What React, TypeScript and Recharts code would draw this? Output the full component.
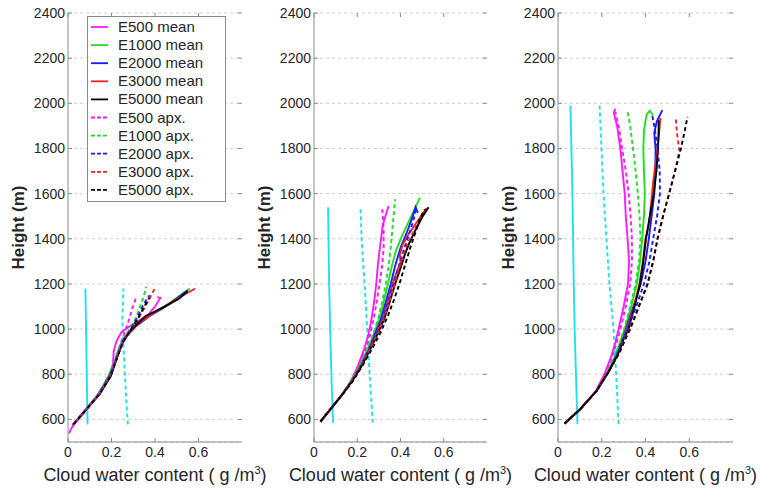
import { ScatterChart, Scatter, XAxis, YAxis, CartesianGrid, Legend } from 'recharts'

/* ── Layout / style ── */

const FONT = '"Liberation Sans", Arial, Helvetica, sans-serif'
const FRAME = '#8c8c8c'
const GRID = '#cfcfcf'
const TEXT = '#262626'

const CHART_H = 488
const PLOT_TOP = 13
const PLOT_BOTTOM = 442
const AXIS_W = 68

/* ── Axes & legend ── */

const Y_TICKS = [600, 800, 1000, 1200, 1400, 1600, 1800, 2000, 2200, 2400]
const X_TICKS = [0, 0.2, 0.4, 0.6]

const SERIES_NAMES = [
  'E500 mean', 'E1000 mean', 'E2000 mean', 'E3000 mean', 'E5000 mean',
  'E500 apx.', 'E1000 apx.', 'E2000 apx.', 'E3000 apx.', 'E5000 apx.',
]
const SERIES_COLORS = ['#ff1aff', '#22dd22', '#1a1aff', '#ee2222', '#000000']
const CYAN = '#22e0ea'

/* ── Panel 1: [cloud water (g/m3), height (m)] ── */

const p1CyanSolid = [[0.09, 578], [0.087, 750], [0.084, 950], [0.08, 1180]]
const p1CyanDash = [[0.275, 578], [0.266, 720], [0.257, 880], [0.25, 1040], [0.255, 1180]]

const p1E500Mean = [[0.005, 538], [0.015, 560], [0.04, 595], [0.08, 640], [0.13, 700], [0.17, 760], [0.2, 815], [0.207, 850], [0.21, 900], [0.222, 945], [0.245, 985], [0.28, 1010], [0.33, 1040], [0.37, 1065], [0.4, 1100], [0.425, 1138], [0.41, 1142]]
const p1E1000Mean = [[0.03, 585], [0.085, 648], [0.14, 712], [0.185, 790], [0.215, 860], [0.235, 920], [0.26, 965], [0.29, 1000], [0.34, 1040], [0.4, 1075], [0.46, 1110], [0.51, 1145], [0.56, 1180]]
const p1E2000Mean = [[0.03, 583], [0.085, 646], [0.142, 712], [0.19, 792], [0.222, 870], [0.245, 930], [0.275, 975], [0.31, 1010], [0.37, 1055], [0.44, 1095], [0.5, 1135], [0.55, 1172]]
const p1E3000Mean = [[0.025, 578], [0.085, 645], [0.145, 712], [0.195, 795], [0.225, 875], [0.25, 940], [0.285, 990], [0.33, 1030], [0.4, 1075], [0.47, 1115], [0.53, 1150], [0.585, 1180]]
const p1E5000Mean = [[0.02, 575], [0.05, 605], [0.085, 645], [0.145, 712], [0.197, 792], [0.228, 880], [0.252, 945], [0.29, 998], [0.356, 1057], [0.447, 1101], [0.51, 1135], [0.55, 1168]]
const p1E500Apx = [[0.02, 572], [0.08, 640], [0.14, 708], [0.19, 788], [0.22, 865], [0.24, 930], [0.26, 985], [0.28, 1040], [0.295, 1090], [0.31, 1130], [0.3, 1140]]
const p1E1000Apx = [[0.03, 585], [0.085, 648], [0.145, 715], [0.19, 795], [0.222, 878], [0.25, 945], [0.28, 995], [0.31, 1045], [0.33, 1095], [0.348, 1145], [0.36, 1188]]
const p1E2000Apx = [[0.03, 585], [0.085, 647], [0.145, 714], [0.193, 795], [0.225, 878], [0.252, 945], [0.285, 995], [0.315, 1045], [0.34, 1095], [0.36, 1130], [0.375, 1150]]
const p1E3000Apx = [[0.028, 580], [0.085, 646], [0.145, 713], [0.195, 795], [0.227, 878], [0.255, 945], [0.29, 998], [0.325, 1050], [0.355, 1100], [0.38, 1145], [0.4, 1182]]
const p1E5000Apx = [[0.025, 578], [0.085, 645], [0.145, 712], [0.196, 793], [0.228, 880], [0.254, 945], [0.29, 998], [0.32, 1045], [0.345, 1090], [0.365, 1125], [0.375, 1140]]

/* ── Panel 2 ── */

const p2CyanSolid = [[0.088, 585], [0.082, 750], [0.076, 950], [0.07, 1200], [0.065, 1540]]
const p2CyanDash = [[0.272, 585], [0.257, 800], [0.246, 1000], [0.234, 1200], [0.22, 1400], [0.215, 1540]]

const p2E500Mean = [[0.03, 590], [0.08, 648], [0.13, 708], [0.17, 768], [0.2, 830], [0.228, 900], [0.25, 970], [0.265, 1040], [0.278, 1120], [0.288, 1200], [0.295, 1280], [0.302, 1340], [0.31, 1400], [0.318, 1460], [0.335, 1515], [0.345, 1545]]
const p2E1000Mean = [[0.03, 590], [0.08, 650], [0.13, 710], [0.175, 775], [0.212, 840], [0.245, 905], [0.275, 975], [0.3, 1040], [0.322, 1120], [0.342, 1200], [0.36, 1280], [0.38, 1350], [0.41, 1420], [0.45, 1500], [0.49, 1582]]
const p2E2000Mean = [[0.03, 590], [0.08, 650], [0.13, 710], [0.178, 775], [0.216, 840], [0.25, 905], [0.28, 975], [0.308, 1040], [0.332, 1120], [0.355, 1200], [0.375, 1280], [0.4, 1360], [0.43, 1430], [0.455, 1495], [0.47, 1540], [0.48, 1515]]
const p2E3000Mean = [[0.03, 590], [0.08, 650], [0.13, 710], [0.18, 775], [0.22, 840], [0.255, 905], [0.288, 975], [0.315, 1040], [0.34, 1120], [0.363, 1200], [0.385, 1260], [0.4, 1295], [0.397, 1330], [0.41, 1375], [0.44, 1425], [0.48, 1480], [0.52, 1535]]
const p2E5000Mean = [[0.03, 590], [0.08, 650], [0.13, 710], [0.18, 775], [0.222, 840], [0.26, 910], [0.295, 980], [0.325, 1045], [0.35, 1120], [0.375, 1200], [0.4, 1270], [0.42, 1330], [0.44, 1380], [0.47, 1440], [0.5, 1495], [0.53, 1540]]
const p2E500Apx = [[0.03, 590], [0.08, 648], [0.13, 708], [0.17, 768], [0.205, 830], [0.235, 900], [0.258, 970], [0.275, 1040], [0.29, 1120], [0.303, 1200], [0.315, 1280], [0.322, 1360], [0.322, 1440], [0.318, 1500], [0.315, 1540]]
const p2E1000Apx = [[0.03, 590], [0.08, 650], [0.13, 710], [0.175, 775], [0.212, 840], [0.245, 905], [0.272, 975], [0.295, 1040], [0.315, 1120], [0.332, 1200], [0.345, 1280], [0.355, 1360], [0.363, 1450], [0.37, 1520], [0.375, 1575]]
const p2E2000Apx = [[0.03, 590], [0.08, 650], [0.13, 710], [0.178, 775], [0.218, 840], [0.253, 905], [0.285, 975], [0.315, 1040], [0.342, 1120], [0.368, 1200], [0.393, 1280], [0.418, 1360], [0.443, 1430], [0.462, 1490], [0.47, 1530]]
const p2E3000Apx = [[0.03, 590], [0.08, 650], [0.13, 710], [0.18, 775], [0.22, 840], [0.257, 905], [0.29, 975], [0.32, 1040], [0.345, 1110], [0.37, 1190], [0.4, 1290], [0.43, 1375], [0.47, 1450], [0.51, 1530]]
const p2E5000Apx = [[0.03, 590], [0.08, 650], [0.13, 708], [0.18, 770], [0.225, 840], [0.268, 912], [0.308, 985], [0.342, 1060], [0.37, 1130], [0.395, 1200], [0.42, 1280], [0.445, 1360], [0.47, 1430], [0.49, 1490], [0.515, 1530]]

/* ── Panel 3 ── */

const p3CyanSolid = [[0.089, 580], [0.082, 800], [0.076, 1000], [0.072, 1200], [0.066, 1600], [0.057, 1990]]
const p3CyanDash = [[0.277, 580], [0.266, 800], [0.254, 1000], [0.235, 1200], [0.208, 1600], [0.19, 1990]]

const p3E500Mean = [[0.03, 582], [0.1, 644], [0.17, 720], [0.212, 800], [0.24, 870], [0.262, 940], [0.277, 1000], [0.3, 1100], [0.32, 1200], [0.325, 1300], [0.318, 1400], [0.31, 1500], [0.305, 1600], [0.295, 1700], [0.285, 1800], [0.27, 1900], [0.255, 1958], [0.262, 1975]]
const p3E1000Mean = [[0.03, 582], [0.1, 644], [0.175, 725], [0.225, 805], [0.26, 880], [0.285, 945], [0.305, 1000], [0.335, 1100], [0.36, 1200], [0.375, 1300], [0.385, 1400], [0.393, 1500], [0.397, 1600], [0.393, 1700], [0.39, 1800], [0.393, 1880], [0.405, 1950], [0.42, 1968], [0.435, 1945]]
const p3E2000Mean = [[0.03, 582], [0.1, 644], [0.177, 727], [0.23, 810], [0.268, 885], [0.292, 950], [0.31, 1000], [0.345, 1100], [0.378, 1200], [0.4, 1300], [0.415, 1400], [0.428, 1500], [0.44, 1600], [0.445, 1700], [0.446, 1800], [0.44, 1870], [0.452, 1920], [0.477, 1970]]
const p3E3000Mean = [[0.03, 582], [0.1, 644], [0.177, 727], [0.235, 815], [0.27, 885], [0.295, 950], [0.315, 1000], [0.348, 1100], [0.372, 1200], [0.388, 1300], [0.4, 1400], [0.415, 1460], [0.425, 1550], [0.435, 1650], [0.448, 1750], [0.455, 1800], [0.463, 1880], [0.468, 1935]]
const p3E5000Mean = [[0.03, 582], [0.1, 644], [0.177, 727], [0.238, 823], [0.275, 890], [0.3, 955], [0.322, 1000], [0.35, 1100], [0.375, 1200], [0.39, 1300], [0.402, 1400], [0.42, 1500], [0.438, 1600], [0.45, 1700], [0.457, 1800], [0.46, 1870], [0.46, 1925]]
const p3E500Apx = [[0.03, 582], [0.1, 644], [0.17, 720], [0.215, 800], [0.245, 870], [0.268, 940], [0.285, 1000], [0.31, 1100], [0.33, 1200], [0.338, 1300], [0.338, 1400], [0.332, 1500], [0.323, 1600], [0.31, 1700], [0.293, 1800], [0.277, 1900], [0.262, 1962]]
const p3E1000Apx = [[0.03, 582], [0.1, 644], [0.175, 725], [0.225, 805], [0.26, 880], [0.285, 945], [0.302, 1000], [0.33, 1100], [0.355, 1200], [0.37, 1300], [0.377, 1400], [0.373, 1500], [0.365, 1600], [0.355, 1700], [0.343, 1800], [0.33, 1900], [0.318, 1962]]
const p3E2000Apx = [[0.03, 582], [0.1, 644], [0.177, 727], [0.232, 812], [0.27, 888], [0.298, 955], [0.318, 1000], [0.358, 1100], [0.393, 1200], [0.418, 1300], [0.435, 1400], [0.453, 1500], [0.466, 1600], [0.465, 1700], [0.455, 1800], [0.442, 1890], [0.43, 1950]]
const p3E3000Apx = [[0.03, 582], [0.1, 644], [0.177, 727], [0.238, 823], [0.28, 895], [0.308, 960], [0.328, 1000], [0.37, 1100], [0.408, 1200], [0.435, 1300], [0.455, 1400], [0.48, 1500], [0.508, 1600], [0.535, 1700], [0.555, 1790], [0.545, 1860], [0.538, 1935]]
const p3E5000Apx = [[0.03, 582], [0.1, 644], [0.177, 727], [0.238, 823], [0.282, 897], [0.31, 960], [0.33, 1000], [0.37, 1100], [0.41, 1200], [0.435, 1300], [0.455, 1400], [0.48, 1500], [0.508, 1600], [0.535, 1700], [0.562, 1800], [0.58, 1880], [0.592, 1940]]

/* ── Panel setup ── */

interface PanelDef {
  left: number
  width: number
  plotW: number
  legend: boolean
  cyan: number[][][]
  mean: number[][][]
  apx: number[][][]
}

const PANELS: PanelDef[] = [
  {
    left: 0, width: 270, plotW: 174, legend: true,
    cyan: [p1CyanSolid, p1CyanDash],
    mean: [p1E500Mean, p1E1000Mean, p1E2000Mean, p1E3000Mean, p1E5000Mean],
    apx: [p1E500Apx, p1E1000Apx, p1E2000Apx, p1E3000Apx, p1E5000Apx],
  },
  {
    left: 246, width: 270, plotW: 173, legend: false,
    cyan: [p2CyanSolid, p2CyanDash],
    mean: [p2E500Mean, p2E1000Mean, p2E2000Mean, p2E3000Mean, p2E5000Mean],
    apx: [p2E500Apx, p2E1000Apx, p2E2000Apx, p2E3000Apx, p2E5000Apx],
  },
  {
    left: 490, width: 271, plotW: 175, legend: false,
    cyan: [p3CyanSolid, p3CyanDash],
    mean: [p3E500Mean, p3E1000Mean, p3E2000Mean, p3E3000Mean, p3E5000Mean],
    apx: [p3E500Apx, p3E1000Apx, p3E2000Apx, p3E3000Apx, p3E5000Apx],
  },
]

const pts = (a: number[][]) => a.map(([x, h]) => ({ x, h }))

/* ── Ticks, labels, legend ── */

function XTick({ x, y, payload }: any) {
  return (
    <g>
      <line x1={x} x2={x} y1={PLOT_BOTTOM} y2={PLOT_BOTTOM - 4} stroke={FRAME} />
      <line x1={x} x2={x} y1={PLOT_TOP} y2={PLOT_TOP + 4} stroke={FRAME} />
      <text x={x} y={y + 15} textAnchor="middle" fontSize={14} fill={TEXT}>{payload.value}</text>
    </g>
  )
}

function YTick({ x, y, payload, plotW }: any) {
  const left = x + 3
  return (
    <g>
      <line x1={left} x2={left + 4} y1={y} y2={y} stroke={FRAME} />
      <line x1={left + plotW - 4} x2={left + plotW} y1={y} y2={y} stroke={FRAME} />
      <text x={x} y={y} dy={5} textAnchor="end" fontSize={14} fill={TEXT}>{payload.value}</text>
    </g>
  )
}

function YLabel() {
  const cx = AXIS_W - 50
  const cy = (PLOT_TOP + PLOT_BOTTOM) / 2
  return (
    <text x={cx} y={cy} transform={`rotate(-90 ${cx} ${cy})`} textAnchor="middle" dominantBaseline="central"
      fontSize={17} fontWeight="bold" fill={TEXT}>
      Height (m)
    </text>
  )
}

function XLabel({ plotW }: { plotW: number }) {
  return (
    <text x={AXIS_W + plotW / 2} y={481} textAnchor="middle" fontSize={18} fill={TEXT}>
      Cloud water content ( g /m<tspan dy={-7} fontSize={11}>3</tspan><tspan dy={7}>)</tspan>
    </text>
  )
}

function LegendBox() {
  return (
    <svg width={139} height={186} style={{ display: 'block' }}>
      <rect x={0.5} y={0.5} width={138} height={185} fill="#fff" stroke={FRAME} />
      {SERIES_NAMES.map((name, i) => {
        const cy = 11 + i * 18.1
        return (
          <g key={name}>
            <line x1={4} x2={21} y1={cy} y2={cy} stroke={SERIES_COLORS[i % 5]} strokeWidth={1.8}
              strokeDasharray={i >= 5 ? '4 2' : undefined} />
            <text x={31} y={cy + 5} fontSize={15} fill={TEXT}>{name}</text>
          </g>
        )
      })}
    </svg>
  )
}

/* ── One profile panel ── */

function ProfilePanel({ panel }: { panel: PanelDef }) {
  const right = panel.width - AXIS_W - panel.plotW
  const series = [
    ...panel.cyan.map((d, i) => ({ d, color: CYAN, dash: i === 1 })),
    ...panel.mean.map((d, i) => ({ d, color: SERIES_COLORS[i], dash: false })),
    ...panel.apx.map((d, i) => ({ d, color: SERIES_COLORS[i], dash: true })),
  ]
  return (
    <div style={{ position: 'absolute', left: panel.left, top: 0 }}>
      <ScatterChart width={panel.width} height={CHART_H} margin={{ top: PLOT_TOP, right, bottom: 0, left: 0 }}>
        <CartesianGrid vertical={false} stroke={GRID} strokeDasharray="3 3" />
        <XAxis
          type="number" dataKey="x" domain={[0, 0.8]} ticks={X_TICKS} interval={0}
          height={CHART_H - PLOT_BOTTOM} tickSize={0} tickMargin={0} stroke={FRAME}
          tick={(p: any) => <XTick {...p} />}
          label={() => <XLabel plotW={panel.plotW} />}
        />
        <XAxis xAxisId="top" orientation="top" type="number" domain={[0, 0.8]} height={0} tick={false} stroke={FRAME} />
        <YAxis
          type="number" dataKey="h" domain={[500, 2400]} ticks={Y_TICKS} interval={0}
          width={AXIS_W} tickSize={0} tickMargin={3} stroke={FRAME}
          tick={(p: any) => <YTick {...p} plotW={panel.plotW} />}
          label={() => <YLabel />}
        />
        <YAxis yAxisId="right" orientation="right" type="number" domain={[500, 2400]} width={0} tick={false} stroke={FRAME} />
        {panel.legend && (
          <Legend
            layout="vertical" align="center" verticalAlign="middle"
            wrapperStyle={{ left: 87, top: 16 }}
            content={() => <LegendBox />}
          />
        )}
        {series.map((s, i) => (
          <Scatter
            key={i}
            data={pts(s.d)}
            fill={s.color}
            line={{ stroke: s.color, strokeWidth: 1.9, strokeDasharray: s.dash ? '4 3' : undefined }}
            shape={() => null}
            legendType="none"
            isAnimationActive={false}
          />
        ))}
      </ScatterChart>
    </div>
  )
}

export default function App() {
  return (
    <div style={{ position: 'absolute', left: 0, top: 0, width: 761, height: 488, background: '#fff', fontFamily: FONT }}>
      {PANELS.map((p, i) => <ProfilePanel key={i} panel={p} />)}
    </div>
  )
}
